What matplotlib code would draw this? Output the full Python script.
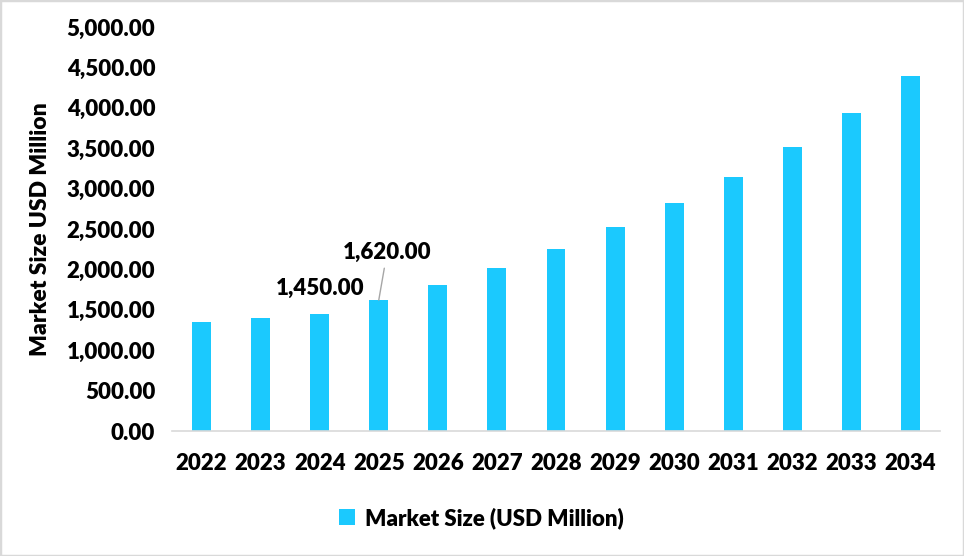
import matplotlib.pyplot as plt
import numpy as np
from matplotlib.ticker import FuncFormatter
from matplotlib.patches import Rectangle

# data
years = ["2022", "2023", "2024", "2025", "2026", "2027", "2028",
         "2029", "2030", "2031", "2032", "2033", "2034"]
market_size = [1350, 1400, 1450, 1620, 1810, 2020, 2252,
               2525, 2822, 3143, 3515, 3936, 4393]
series_name = "Market Size (USD Million)"

plt.rcParams['font.family'] = ['Lato', 'DejaVu Sans']
plt.rcParams['font.weight'] = 'heavy'
fs = 16

fig = plt.figure(figsize=(9.64, 5.56), dpi=100)
ax = fig.add_axes([172/964, 1-431/556, 768/964, 404/556])

x = np.arange(len(years))
bars = ax.bar(x, market_size, width=0.32, color='#1BC9FE', label=series_name)

ax.set_xlim(-0.5, len(years) - 0.5)
ax.set_ylim(0, 5000)
ax.set_yticks(np.arange(0, 5001, 500))
ax.yaxis.set_major_formatter(FuncFormatter(lambda v, p: f'{v:,.2f}'))
ax.set_xticks(x, years)

for s in ['top', 'right', 'left']:
    ax.spines[s].set_visible(False)
ax.spines['bottom'].set_color('#d9d9d9')
ax.spines['bottom'].set_linewidth(1.2)
ax.tick_params(axis='y', length=0, pad=12, labelsize=fs)
ax.tick_params(axis='x', length=0, pad=16, labelsize=fs)

ax.set_ylabel("Market Size USD Million", fontsize=16.5, fontweight='heavy')
ax.yaxis.set_label_coords(-0.158, 0.5)

# data labels
ax.annotate(f'{market_size[2]:,.2f}', xy=(2, market_size[2]), xytext=(0, 18.5),
            textcoords='offset points', ha='center', va='center',
            fontsize=fs, fontweight='heavy')
ax.annotate(f'{market_size[3]:,.2f}', xy=(3, market_size[3]), xytext=(6, 34.5),
            textcoords='offset points', ha='center', va='center',
            fontsize=fs, fontweight='heavy',
            arrowprops=dict(arrowstyle='-', color='#a6a6a6', lw=1,
                            shrinkA=2, shrinkB=0))

fig.legend(handles=[bars], labels=[series_name], loc='center',
           bbox_to_anchor=(0.4995, 0.0683), frameon=False, fontsize=fs,
           handlelength=0.75, handleheight=0.75, handletextpad=0.45)

# outer border
fig.patches.append(Rectangle((0, 0), 1, 1, transform=fig.transFigure,
                             fill=False, edgecolor='#d9d9d9', lw=2.5))

fig.savefig("out.png", dpi=100)
